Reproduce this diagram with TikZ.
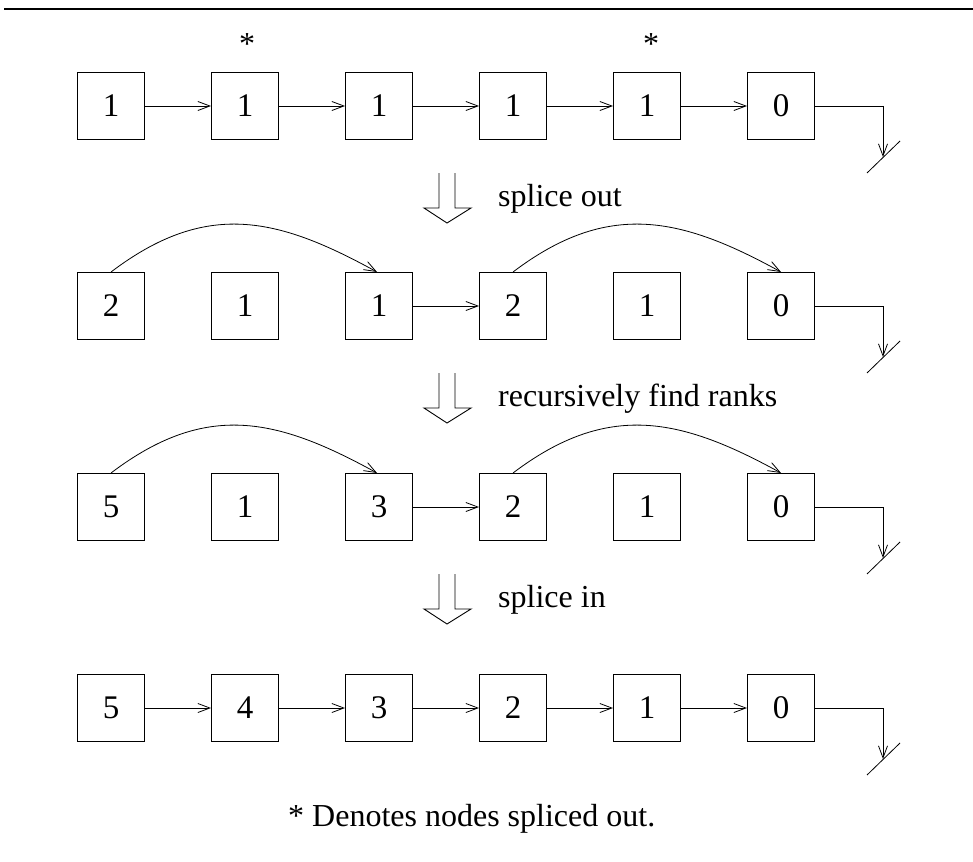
\documentclass[tikz,border=0pt]{standalone}
\usepackage{fontspec}
\setmainfont{Liberation Serif}
\usetikzlibrary{arrows.meta}
\tikzset{
  cell/.style={draw, line width=1pt, minimum size=67pt, inner sep=0pt, font=\fontsize{33}{38}\selectfont},
  lbl/.style={anchor=base west, inner sep=0pt, font=\fontsize{32}{38}\selectfont},
  star/.style={anchor=base, inner sep=0pt, font=\fontsize{32}{38}\selectfont},
  link/.style={line width=0.8pt, -{Straight Barb[length=12pt,width=9pt,line width=0.8pt]}},
  bigarrow/.style={line width=0.9pt},
  ground/.style={line width=0.8pt}
}
\begin{document}
\begin{tikzpicture}[x=1pt,y=-1pt]
\useasboundingbox (0,0) rectangle (973,861);
% top rule
\draw[line width=2pt] (4,9) -- (973,9);

% rows
\foreach \r/\y/\a/\b/\c/\d/\e/\f in {1/106/1/1/1/1/1/0, 2/306/2/1/1/2/1/0, 3/507/5/1/3/2/1/0, 4/708/5/4/3/2/1/0}{
  \node[cell] (b\r1) at (111,\y) {\a};
  \node[cell] (b\r2) at (245,\y) {\b};
  \node[cell] (b\r3) at (379,\y) {\c};
  \node[cell] (b\r4) at (513,\y) {\d};
  \node[cell] (b\r5) at (647,\y) {\e};
  \node[cell] (b\r6) at (781,\y) {\f};
  % null pointer
  \coordinate (c\r) at (883,\y);
  \coordinate (n\r) at (883,\y+51);
  \coordinate (g\r a) at (867,\y+67);
  \coordinate (g\r b) at (900,\y+35);
  \draw[line width=0.8pt] (b\r6.east) -- (c\r);
  \draw[link] (c\r) -- (n\r);
  \draw[ground] (g\r a) -- (g\r b);
}

% asterisks
\node[star] (s1) at (247,55) {*};
\node[star] (s2) at (651,55) {*};

% row 1 links
\draw[link] (b11) -- (b12);
\draw[link] (b12) -- (b13);
\draw[link] (b13) -- (b14);
\draw[link] (b14) -- (b15);
\draw[link] (b15) -- (b16);

% rows 2 and 3 links
\foreach \r in {2,3}{
  \draw[link] (b\r1.north) .. controls +(95,-72) and +(-100,-55) .. ([xshift=-2pt]b\r3.north);
  \draw[link] (b\r3) -- (b\r4);
  \draw[link] (b\r4.north) .. controls +(95,-72) and +(-100,-55) .. (b\r6.north);
}

% row 4 links
\draw[link] (b41) -- (b42);
\draw[link] (b42) -- (b43);
\draw[link] (b43) -- (b44);
\draw[link] (b44) -- (b45);
\draw[link] (b45) -- (b46);

% block arrows and labels
\foreach \t/\txt in {173/splice out, 373/recursively find ranks, 574/splice in}{
  \draw[bigarrow] (439,\t) -- (439,\t+35) -- (424,\t+35) -- (447,\t+50) -- (471,\t+35) -- (455,\t+35) -- (455,\t);
  \node[lbl] at (498,\t+33) {\txt};
}

% footnote
\node[lbl] (foot) at (288,826) {* Denotes nodes spliced out.};
\end{tikzpicture}
\end{document}
